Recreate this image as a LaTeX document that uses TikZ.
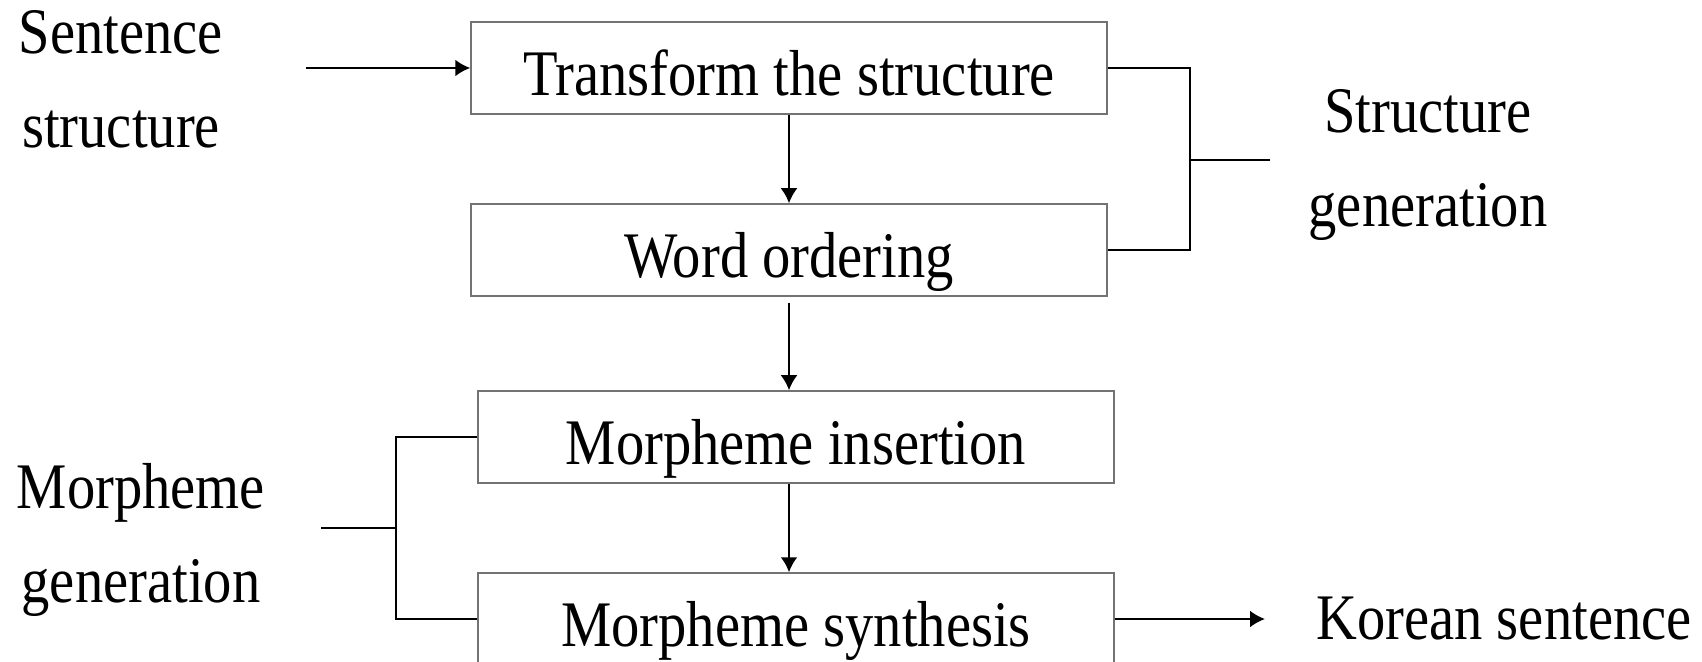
\documentclass[tikz,border=0pt]{standalone}
\usepackage{fontspec}
\setmainfont[FakeStretch=0.87]{Liberation Serif}
\usetikzlibrary{arrows.meta}
\begin{document}
\begin{tikzpicture}[x=0.5pt,y=-0.5pt,
  stagebox/.style={draw=black!55, line width=0.75pt, minimum width=318pt,
    minimum height=46pt, inner sep=0pt, text height=27.5pt, text depth=0pt,
    font=\fontsize{32.5}{39}\selectfont},
  sidetext/.style={inner sep=0pt, align=center, font=\fontsize{32.5}{47}\selectfont},
  link/.style={line width=1.25pt},
  flow/.style={link, -{Latex[length=7.5pt,width=8.5pt]}},
]
\clip (0,0) rectangle (1702,662);
\fill[white] (0,0) rectangle (1702,662);

% processing stages
\node[stagebox] (t)  at (789,68)  {Transform the structure};
\node[stagebox] (w)  at (789,250) {Word ordering};
\node[stagebox] (mi) at (796,437) {Morpheme insertion};
\node[stagebox] (ms) at (796,619) {Morpheme synthesis};

% side labels
\node[sidetext] (ss) at (121,79)  {Sentence\\structure};
\node[sidetext] (sg) at (1428,165) {Structure\\generation};
\node[sidetext] (mg) at (141,540) {Morpheme\\generation};
\node[sidetext, anchor=west] (ks) at (1316,619) {Korean sentence};

% main flow
\coordinate (in) at (306,68);
\draw[flow] (in) -- (t.west);
\draw[flow] (t) -- (w);
\draw[flow] ([yshift=-3pt]w.south) -- (w.south |- mi.north);
\draw[flow] (w.south |- mi.south) -- (w.south |- ms.north);
\draw[flow, shorten >=25.5pt] (ms.east) -- (ks.west);

% structure generation bracket
\coordinate (rb) at (1190,160);
\coordinate (rt) at (1270,160);
\draw[link] (t.east) -| (rb) |- (w.east);
\draw[link] (rb) -- (rt);

% morpheme generation bracket
\coordinate (lb) at (396,528);
\coordinate (lt) at (321,528);
\draw[link] (mi.west) -| (lb) |- (ms.west);
\draw[link] (lb) -- (lt);
\end{tikzpicture}
\end{document}
